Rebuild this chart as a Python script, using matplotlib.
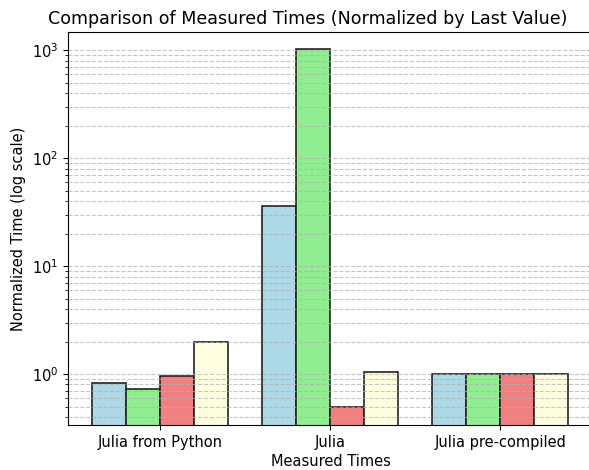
import matplotlib.pyplot as plt
import numpy as np

groups = ["Julia from Python", "Julia", "Julia pre-compiled"]
series_colors = ["lightblue", "lightgreen", "lightcoral", "lightyellow"]
series_values = [
    [0.82, 36.0, 1.0],
    [0.72, 1020.0, 1.0],
    [0.96, 0.49, 1.0],
    [1.97, 1.05, 1.0],
]

plt.rcParams["font.size"] = 10.5

fig = plt.figure(figsize=(5.89, 4.70), dpi=100)
# axes runs a little past the right edge, as in the cropped original
ax = fig.add_axes([68 / 589, 45 / 470, 526 / 589, 393 / 470])

x = np.arange(len(groups))
width = 0.2
for k, (vals, color) in enumerate(zip(series_values, series_colors)):
    offset = (k - 1.5) * width
    ax.bar(x + offset, vals, width, color=color, edgecolor="#222222", linewidth=1.2)

ax.set_yscale("log")
ax.set_ylim(0.337, 1480)
ax.set_xlim(-0.54, 2.55)
ax.set_xticks(x)
ax.set_xticklabels(groups)
ax.set_xlabel("Measured Times", labelpad=3)
ax.set_ylabel("Normalized Time (log scale)")
ax.set_title("Comparison of Measured Times (Normalized by Last Value)",
             fontsize=12.6, x=0.455)
ax.grid(True, which="both", axis="y", linestyle="--", alpha=0.7)

fig.savefig("out.png", dpi=100)
